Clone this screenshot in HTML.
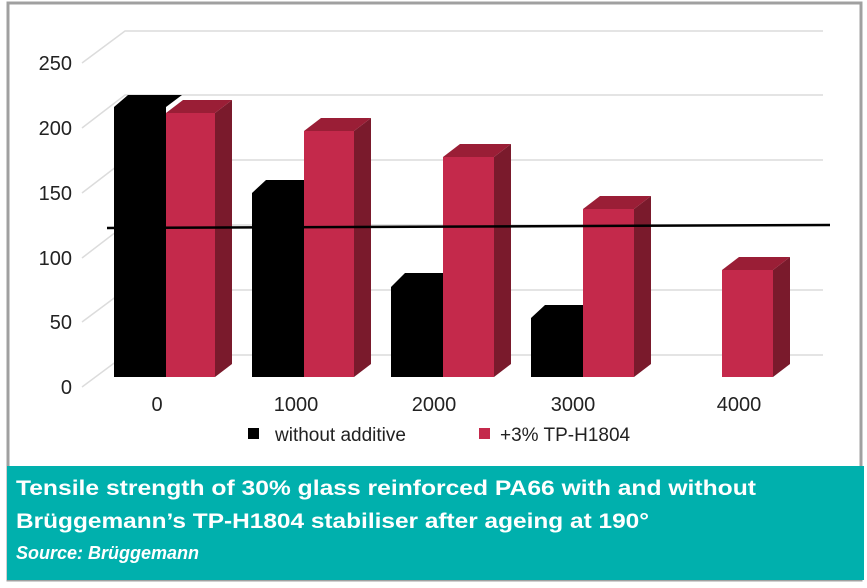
<!DOCTYPE html>
<html><head><meta charset="utf-8"><style>
body{margin:0;background:#fff;}
svg{display:block;font-family:"Liberation Sans",sans-serif;}
</style></head><body>
<svg width="867" height="588" viewBox="0 0 867 588">
<rect x="8" y="3" width="853" height="577" fill="#fff" stroke="#a0a0a0" stroke-width="3"/>
<g stroke="#dcdcdc" stroke-width="1.5" fill="none">
<path d="M82 63 L125 31 H823"/>
<path d="M82 128 L125 95 H823"/>
<path d="M82 193 L125 160 H823"/>
<path d="M82 258 L125 225 H823"/>
<path d="M82 322 L125 290 H823"/>
<path d="M82 387 L125 355 H823"/>
</g>
<g font-size="20" fill="#222" text-anchor="end">
<text x="72" y="70">250</text><text x="72" y="135">200</text><text x="72" y="200">150</text>
<text x="72" y="265">100</text><text x="72" y="329">50</text><text x="72" y="394">0</text>
</g>
<!-- bars -->
<g>
<!-- 0 -->
<path d="M114 377 V107 L128 95 H182 L166 107 V377Z" fill="#000"/>
<path d="M215 113 L232 100 V364 L215 377Z" fill="#7a1a2c"/>
<path d="M166 113 L183 100 H232 L215 113Z" fill="#9a1e36"/>
<rect x="166" y="113" width="49" height="264" fill="#c4294b"/>
<!-- 1000 -->
<path d="M252 377 V193 L266 180 H304 V377Z" fill="#000"/>
<path d="M354 131 L371 118 V364 L354 377Z" fill="#7a1a2c"/>
<path d="M304 131 L321 118 H371 L354 131Z" fill="#9a1e36"/>
<rect x="304" y="131" width="50" height="246" fill="#c4294b"/>
<!-- 2000 -->
<path d="M391 377 V287 L405 273 H443 V377Z" fill="#000"/>
<path d="M494 157 L511 144 V364 L494 377Z" fill="#7a1a2c"/>
<path d="M443 157 L460 144 H511 L494 157Z" fill="#9a1e36"/>
<rect x="443" y="157" width="51" height="220" fill="#c4294b"/>
<!-- 3000 -->
<path d="M531 377 V318 L545 305 H583 V377Z" fill="#000"/>
<path d="M634 209 L651 196 V364 L634 377Z" fill="#7a1a2c"/>
<path d="M583 209 L600 196 H651 L634 209Z" fill="#9a1e36"/>
<rect x="583" y="209" width="51" height="168" fill="#c4294b"/>
<!-- 4000 -->
<path d="M773 270 L790 257 V364 L773 377Z" fill="#7a1a2c"/>
<path d="M722 270 L739 257 H790 L773 270Z" fill="#9a1e36"/>
<rect x="722" y="270" width="51" height="107" fill="#c4294b"/>
</g>
<line x1="107" y1="228" x2="830" y2="225" stroke="#000" stroke-width="2.5"/>
<g font-size="20" fill="#222" text-anchor="middle">
<text x="157" y="411">0</text><text x="296" y="411">1000</text><text x="434" y="411">2000</text>
<text x="573" y="411">3000</text><text x="739" y="411">4000</text>
</g>
<rect x="248" y="428" width="11" height="11" fill="#000"/>
<text x="275" y="441" font-size="19" fill="#222">without additive</text>
<rect x="479" y="428" width="11" height="11" fill="#c4294b"/>
<text x="500" y="441" font-size="19" fill="#222">+3% TP-H1804</text>
<rect x="7" y="466" width="857" height="114" fill="#00b0ad"/>
<g fill="#fff" font-weight="bold">
<text x="16" y="495" font-size="21" textLength="740" lengthAdjust="spacingAndGlyphs">Tensile strength of 30% glass reinforced PA66 with and without</text>
<text x="16" y="528" font-size="21" textLength="633" lengthAdjust="spacingAndGlyphs">Brüggemann’s TP-H1804 stabiliser after ageing at 190°</text>
<text x="16" y="559" font-size="18" font-style="italic">Source: Brüggemann</text>
</g>
</svg>
</body></html>
